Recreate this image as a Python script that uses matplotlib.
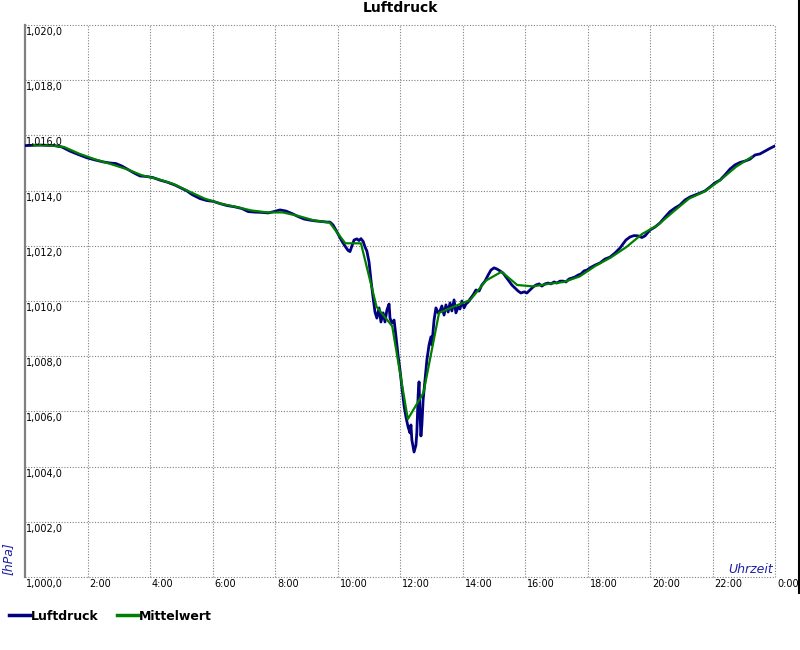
import matplotlib
matplotlib.use("Agg")
import matplotlib.pyplot as plt
from matplotlib.lines import Line2D
from matplotlib.transforms import offset_copy

# ---------------- data ----------------
luft_t = [0.00, 0.48, 0.96, 1.18, 1.44, 1.70, 1.98, 2.24, 2.50, 2.72, 2.91, 3.10, 3.30, 3.52,
          3.68, 3.90, 4.10, 4.32, 4.54, 4.80, 5.02, 5.18, 5.34, 5.60, 5.82, 6.02, 6.24, 6.46,
          6.72, 6.94, 7.14, 7.36, 7.58, 7.78, 7.97, 8.16, 8.35, 8.54, 8.74, 8.93, 9.12, 9.31,
          9.50, 9.66, 9.76, 9.86, 9.95, 10.05, 10.14, 10.24, 10.34, 10.40, 10.46, 10.53, 10.62,
          10.69, 10.75, 10.82, 10.88, 10.94, 11.01, 11.07, 11.14, 11.20, 11.26, 11.33, 11.39,
          11.46, 11.52, 11.58, 11.65, 11.68, 11.74, 11.81, 11.87, 11.94, 12.00, 12.06, 12.13,
          12.19, 12.26, 12.32, 12.35, 12.38, 12.45, 12.51, 12.54, 12.58, 12.61, 12.64, 12.67,
          12.70, 12.74, 12.80, 12.86, 12.93, 12.99, 13.02, 13.09, 13.15, 13.22, 13.28, 13.34,
          13.41, 13.47, 13.54, 13.60, 13.66, 13.73, 13.79, 13.86, 13.92, 13.98, 14.05, 14.11,
          14.18, 14.24, 14.34, 14.43, 14.53, 14.62, 14.72, 14.82, 14.91, 15.01, 15.10, 15.20,
          15.30, 15.39, 15.49, 15.58, 15.68, 15.78, 15.87, 15.97, 16.06, 16.16, 16.26, 16.35,
          16.45, 16.54, 16.64, 16.74, 16.83, 16.93, 17.02, 17.12, 17.22, 17.31, 17.41, 17.50,
          17.60, 17.70, 17.79, 17.89, 17.98, 18.08, 18.24, 18.40, 18.56, 18.72, 18.88, 19.04,
          19.14, 19.23, 19.36, 19.49, 19.62, 19.74, 19.84, 20.00, 20.16, 20.32, 20.48, 20.64,
          20.80, 20.96, 21.12, 21.28, 21.44, 21.60, 21.76, 21.92, 22.08, 22.24, 22.40, 22.56,
          22.72, 22.88, 23.04, 23.20, 23.36, 23.52, 23.68, 23.84, 24.00]
luft_v = [1015.63, 1015.65, 1015.63, 1015.58, 1015.43, 1015.31, 1015.19, 1015.11, 1015.04,
          1015.00, 1014.98, 1014.89, 1014.76, 1014.62, 1014.53, 1014.51, 1014.47, 1014.38,
          1014.31, 1014.20, 1014.08, 1013.99, 1013.86, 1013.71, 1013.64, 1013.61, 1013.53,
          1013.46, 1013.41, 1013.35, 1013.24, 1013.22, 1013.21, 1013.19, 1013.24, 1013.30,
          1013.26, 1013.17, 1013.06, 1012.97, 1012.93, 1012.90, 1012.88, 1012.86, 1012.86,
          1012.75, 1012.57, 1012.36, 1012.17, 1011.99, 1011.83, 1011.79, 1011.99, 1012.21,
          1012.25, 1012.19, 1012.26, 1012.16, 1011.96, 1011.81, 1011.41, 1010.76, 1010.11,
          1009.60, 1009.38, 1009.75, 1009.24, 1009.57, 1009.24, 1009.67, 1009.89, 1009.38,
          1009.20, 1009.31, 1008.73, 1008.01, 1007.50, 1006.88, 1006.20, 1005.80, 1005.43,
          1005.22, 1005.51, 1004.96, 1004.53, 1004.78, 1005.25, 1006.59, 1007.07, 1005.87,
          1005.11, 1005.51, 1006.41, 1007.14, 1007.86, 1008.41, 1008.70, 1008.41, 1009.31,
          1009.75, 1009.57, 1009.64, 1009.82, 1009.49, 1009.86, 1009.60, 1009.93, 1009.64,
          1010.04, 1009.57, 1009.78, 1009.71, 1010.00, 1009.75, 1009.89, 1009.96, 1010.07,
          1010.22, 1010.40, 1010.36, 1010.58, 1010.72, 1010.94, 1011.12, 1011.20, 1011.16,
          1011.09, 1011.01, 1010.87, 1010.72, 1010.58, 1010.47, 1010.36, 1010.29, 1010.33,
          1010.29, 1010.40, 1010.51, 1010.58, 1010.62, 1010.54, 1010.62, 1010.65, 1010.62,
          1010.69, 1010.65, 1010.72, 1010.72, 1010.69, 1010.80, 1010.83, 1010.87, 1010.94,
          1010.98, 1011.09, 1011.12, 1011.20, 1011.30, 1011.38, 1011.52, 1011.59, 1011.74,
          1011.92, 1012.07, 1012.21, 1012.32, 1012.37, 1012.36, 1012.30, 1012.36, 1012.57,
          1012.68, 1012.83, 1013.04, 1013.24, 1013.37, 1013.48, 1013.66, 1013.77, 1013.84,
          1013.91, 1013.99, 1014.13, 1014.28, 1014.38, 1014.57, 1014.78, 1014.93, 1015.02,
          1015.07, 1015.14, 1015.29, 1015.33, 1015.43, 1015.53, 1015.62]

mittel_t = [0.25, 0.75, 1.25, 1.75, 2.25, 2.75, 3.25, 3.75, 4.25, 4.75, 5.25, 5.75, 6.25,
            6.75, 7.25, 7.75, 8.25, 8.75, 9.25, 9.75, 10.25, 10.75, 11.25, 11.75, 12.25,
            12.75, 13.25, 13.75, 14.25, 14.75, 15.25, 15.75, 16.25, 16.75, 17.25, 17.75,
            18.25, 18.75, 19.25, 19.75, 20.25, 20.75, 21.25, 21.75, 22.25, 22.75, 23.25]
mittel_v = [1015.65, 1015.64, 1015.58, 1015.33, 1015.13, 1014.96, 1014.78, 1014.55, 1014.42,
            1014.24, 1013.97, 1013.71, 1013.53, 1013.41, 1013.28, 1013.21, 1013.21, 1013.08,
            1012.92, 1012.84, 1012.09, 1012.09, 1009.79, 1009.09, 1005.72, 1006.67, 1009.57,
            1009.81, 1010.04, 1010.74, 1011.06, 1010.58, 1010.53, 1010.62, 1010.69, 1010.89,
            1011.27, 1011.58, 1011.96, 1012.43, 1012.75, 1013.24, 1013.71, 1013.97, 1014.38,
            1014.86, 1015.22]

y_ticks = [1000, 1002, 1004, 1006, 1008, 1010, 1012, 1014, 1016, 1018, 1020]
y_labels = ["1,000,0", "1,002,0", "1,004,0", "1,006,0", "1,008,0", "1,010,0",
            "1,012,0", "1,014,0", "1,016,0", "1,018,0", "1,020,0"]
x_ticks = [2, 4, 6, 8, 10, 12, 14, 16, 18, 20, 22, 24]
x_labels = ["2:00", "4:00", "6:00", "8:00", "10:00", "12:00", "14:00", "16:00",
            "18:00", "20:00", "22:00", "0:00"]

# ---------------- figure ----------------
W, H = 800, 650
fig = plt.figure(figsize=(8, 6.5), dpi=100)
ax = fig.add_axes([25 / W, 1 - 577 / H, 750 / W, 552 / H])
ax.set_xlim(0, 24)
ax.set_ylim(1000, 1020)

grid_kw = dict(color="#808080", linewidth=0.8, linestyle=(0, (1, 1.5)), zorder=1, clip_on=False)
for yv in y_ticks:
    ax.axhline(yv, **grid_kw)
for xv in x_ticks:
    ax.axvline(xv, **grid_kw)

ax.plot(luft_t, luft_v, color="#000080", linewidth=2.0, zorder=3, label="Luftdruck")
ax.plot(mittel_t, mittel_v, color="#008000", linewidth=1.6, zorder=4, label="Mittelwert")

for s in ["top", "right", "bottom"]:
    ax.spines[s].set_visible(False)
ax.spines["left"].set_color("#808080")
ax.spines["left"].set_linewidth(1.6)
ax.set_xticks([])
ax.set_yticks([])

# y tick labels (inside, below gridline)
for yv, lab in zip(y_ticks, y_labels):
    tr = offset_copy(ax.transData, fig=fig, x=1, y=-2, units="dots")
    ax.text(0, yv, lab, transform=tr, ha="left", va="top", fontsize=7,
            color="black", clip_on=False, zorder=5)

# x tick labels (below axis, right of gridline)
for xv, lab in zip(x_ticks, x_labels):
    tr = offset_copy(ax.get_xaxis_transform(), fig=fig, x=2, y=-2, units="dots")
    ax.text(xv, 0, lab, transform=tr, ha="left", va="top", fontsize=7,
            color="black", clip_on=False, zorder=5)

# axis titles
fig.text(773 / W, 1 - 573 / H, "Uhrzeit", ha="right", va="baseline", fontsize=9,
         style="italic", color="#2020a8")
fig.text(8 / W, 1 - 559 / H, "[hPa]", ha="center", va="center", fontsize=9,
         style="italic", color="#2020a8", rotation=90)

fig.text(0.5, 1 - 8 / H, "Luftdruck", ha="center", va="center", fontsize=10,
         fontweight="bold")

# legend
handles = [Line2D([], [], color="#000080", linewidth=2.5),
           Line2D([], [], color="#008000", linewidth=2.5)]
fig.legend(handles, ["Luftdruck", "Mittelwert"], loc="center left",
           bbox_to_anchor=(9 / W, 1 - 616 / H), ncol=2, frameon=False,
           prop=dict(size=9, weight="bold"), handlelength=1.65, handletextpad=0.1,
           columnspacing=1.5, borderpad=0, borderaxespad=0)

# right border line
fig.add_artist(Line2D([798.5 / W, 798.5 / W], [1, 1 - 593 / H], color="black",
                      linewidth=1.5, transform=fig.transFigure))

fig.savefig("out.png", dpi=100)
